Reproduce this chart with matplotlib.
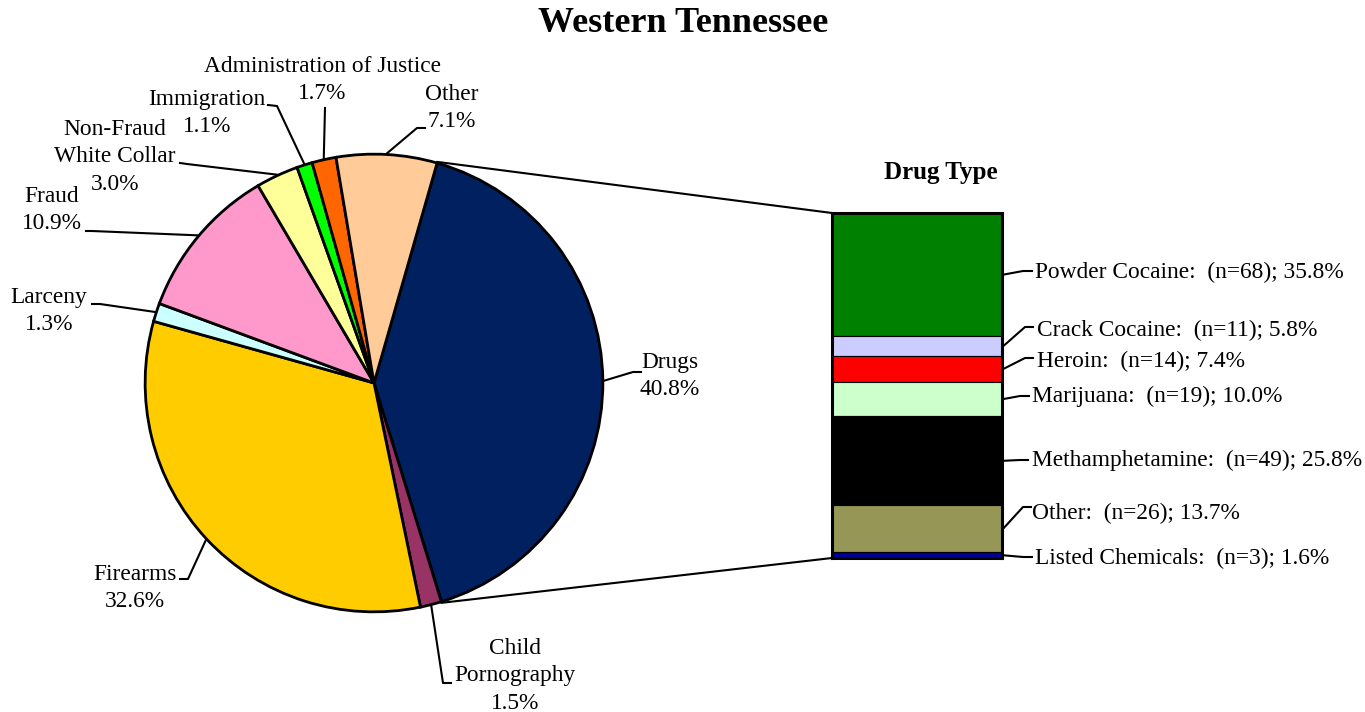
import matplotlib.pyplot as plt
import numpy as np

W, H = 1365, 712

# offense categories (pie)
offenses = ["Drugs", "Child\nPornography", "Firearms", "Larceny", "Fraud",
            "Non-Fraud\nWhite Collar", "Immigration", "Administration of Justice", "Other"]
offense_pct = [40.8, 1.5, 32.6, 1.3, 10.9, 3.0, 1.1, 1.7, 7.1]
offense_colors = ["#002060", "#993366", "#FFCC00", "#CCFFFF", "#FF99CC",
                  "#FFFF99", "#00FF00", "#FF6600", "#FFCC99"]

# drug types (stacked bar)
drugs = ["Powder Cocaine", "Crack Cocaine", "Heroin", "Marijuana",
         "Methamphetamine", "Other", "Listed Chemicals"]
drug_n = [68, 11, 14, 19, 49, 26, 3]
drug_pct = [35.8, 5.8, 7.4, 10.0, 25.8, 13.7, 1.6]
drug_colors = ["#008000", "#CCCCFF", "#FF0000", "#CCFFCC", "#000000", "#969657", "#000099"]

plt.rcParams['font.family'] = ['Liberation Serif', 'DejaVu Serif']
FS = 16.8
PITCH = 27.5  # px between label lines

fig = plt.figure(figsize=(W / 100, H / 100), dpi=100)

# pie axes: center (374, 383), radius 230 px
cx, cy, R = 374, 383, 230
ax_pie = fig.add_axes([(cx - R) / W, (H - cy - R) / H, 2 * R / W, 2 * R / H])
wedges, _ = ax_pie.pie(offense_pct, colors=offense_colors, startangle=74, counterclock=False,
                       wedgeprops=dict(edgecolor="black", linewidth=2.0))
ax_pie.set_xlim(-1.005, 1.005)
ax_pie.set_ylim(-1.005, 1.005)
ax_pie.axis("off")

# bar axes
bx0, by0, bw, bh = 832, 213, 170, 345
ax_bar = fig.add_axes([bx0 / W, (H - by0 - bh) / H, bw / W, bh / H])
total = sum(drug_pct)
bottoms = np.concatenate([[0], np.cumsum(drug_pct)[:-1]])
ax_bar.bar(0, drug_pct, bottom=bottoms, width=1.0, color=drug_colors,
           edgecolor="black", linewidth=0.8)
ax_bar.set_xlim(-0.5, 0.5)
ax_bar.set_ylim(total, 0)
ax_bar.set_xticks([])
ax_bar.set_yticks([])
for s in ax_bar.spines.values():
    s.set_linewidth(2.2)

# overlay in pixel coords for labels and leader lines
ov = fig.add_axes([0, 0, 1, 1])
ov.set_xlim(0, W)
ov.set_ylim(H, 0)
ov.axis("off")
ov.patch.set_visible(False)


def pie_pt(theta):
    t = np.deg2rad(theta)
    return cx + R * np.cos(t), cy - R * np.sin(t)


# pie label layout: text center, leader end, elbow
pie_layout = [
    ((670, 376), (641, 372), (633, 372)),
    ((515, 676), (451, 683), (443, 683)),
    ((135, 588), (180, 579), (188, 579)),
    ((49, 311), (92, 304), (100, 304)),
    ((52, 210), (86, 231), (92, 231)),
    ((115, 157), (180, 163), (187, 164)),
    ((207, 113), (268, 105), (277, 106)),
    ((322, 80), (325, 108), (325, 108)),
    ((452, 108), (425, 128), (417, 128)),
]

for w, name, pct, (tpos, end, elbow) in zip(wedges, offenses, offense_pct, pie_layout):
    mid = (w.theta1 + w.theta2) / 2
    ax_, ay_ = pie_pt(mid)
    ov.plot([end[0], elbow[0], ax_], [end[1], elbow[1], ay_], color="black", lw=1.5)
    lines = name.split("\n") + [f"{pct:.1f}%"]
    y0 = tpos[1] - PITCH * (len(lines) - 1) / 2
    for i, line in enumerate(lines):
        ov.text(tpos[0], y0 + i * PITCH, line, ha="center", va="center", fontsize=FS)

# lines from drugs slice to bar
d = wedges[0]
for theta, by in [(d.theta2, by0), (d.theta1, by0 + bh)]:
    px, py = pie_pt(theta)
    ov.plot([px, bx0], [py, by], color="black", lw=1.5)

ov.text(941, 172, "Drug Type", ha="center", va="center", fontsize=18, fontweight="bold")

# bar labels: text x, text y, elbow, end
bar_layout = [
    (1035, 272, (1023, 271), (1032, 271)),
    (1037, 330, (1025, 327), (1033, 327)),
    (1037, 361, (1025, 358), (1033, 358)),
    (1032, 396, (1020, 396), (1029, 396)),
    (1032, 460, (1020, 460), (1028, 460)),
    (1032, 513, (1023, 507), (1031, 507)),
    (1035, 558, (1023, 557), (1032, 557)),
]
for name, n, pct, b, (tx, ty, elbow, end) in zip(drugs, drug_n, drug_pct, bottoms, bar_layout):
    my = by0 + (b + pct / 2) / total * bh
    ov.plot([bx0 + bw + 1, elbow[0], end[0]], [my, elbow[1], end[1]], color="black", lw=1.5)
    ov.text(tx, ty, f"{name}:  (n={n}); {pct:.1f}%", ha="left", va="center", fontsize=FS)

ov.text(683, 23, "Western Tennessee", ha="center", va="center", fontsize=26, fontweight="bold")

fig.savefig("out.png", dpi=100)
